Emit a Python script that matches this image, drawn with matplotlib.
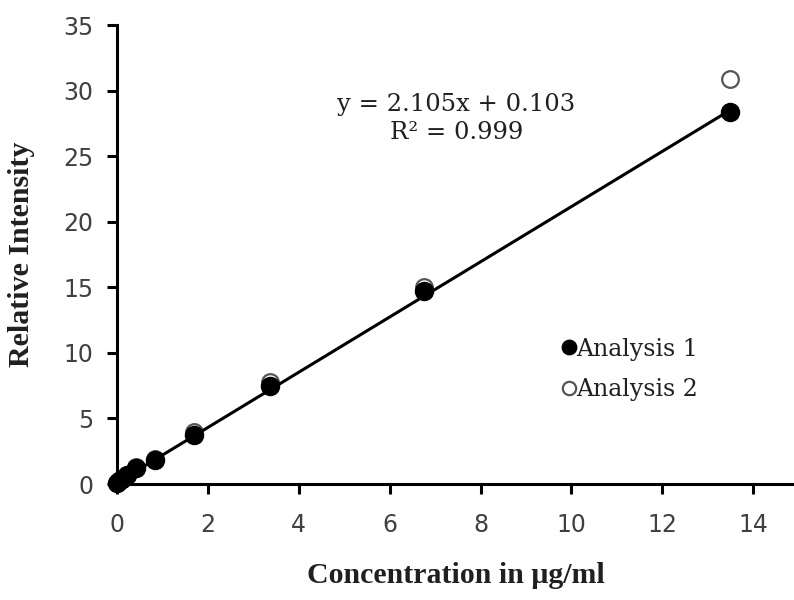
import matplotlib
matplotlib.use("Agg")
import matplotlib.pyplot as plt
import numpy as np

conc = [0.0, 0.053, 0.105, 0.21, 0.42, 0.84, 1.6875, 3.375, 6.75, 13.5]
analysis1 = [0.05, 0.2, 0.35, 0.65, 1.2, 1.85, 3.7, 7.5, 14.7, 28.4]
analysis2 = [0.05, 0.22, 0.4, 0.7, 1.3, 1.9, 3.95, 7.75, 15.05, 30.9]
slope, intercept = 2.105, 0.103
eq_text = "y = 2.105x + 0.103\nR\u00b2 = 0.999"
x_ticks = [0, 2, 4, 6, 8, 10, 12, 14]
y_ticks = [0, 5, 10, 15, 20, 25, 30, 35]

serif = ["DejaVu Serif"]
times = ["Liberation Serif", "DejaVu Serif"]
tick_col = "#404040"

fig = plt.figure(figsize=(7.94, 6.0), dpi=100)
ax = fig.add_axes([0.1474, 0.1933, 0.8526, 0.765])

ax.plot(conc, analysis2, "o", ms=12, mfc="white", mec="#555555", mew=1.6,
        label="Analysis 2", zorder=2, clip_on=False)
ax.plot(conc, analysis1, "o", ms=13, mfc="black", mec="black",
        label="Analysis 1", zorder=3, clip_on=False)
fit_x = np.array([min(conc), max(conc)])
ax.plot(fit_x, slope * fit_x + intercept, "-", color="black", lw=2.2,
        zorder=4, clip_on=False)

ax.set_xlim(0, 14.9)
ax.set_ylim(0, 35)
ax.set_xticks(x_ticks)
ax.set_yticks(y_ticks)
for s in ["top", "right"]:
    ax.spines[s].set_visible(False)
for s in ["left", "bottom"]:
    ax.spines[s].set_linewidth(2.2)
    ax.spines[s].set_zorder(1)
ax.tick_params(direction="out", length=7, width=2.2, labelsize=17,
               labelcolor=tick_col, pad=10)
ax.tick_params(axis="x", pad=14)
for lab in ax.get_xticklabels() + ax.get_yticklabels():
    lab.set_family(["Tahoma", "DejaVu Sans"])

ax.text(7.47, 27.85, eq_text, ha="center", va="center", fontsize=17.5,
        family=serif, color="#202020", linespacing=1.3)

ax.set_xlabel("Concentration in \u03bcg/ml", fontsize=21.5, family=times,
              fontweight="bold", labelpad=18, color="#202020")
ax.set_ylabel("Relative Intensity", fontsize=21.5, family=times,
              fontweight="bold", labelpad=20, color="#202020")

handles, labels = ax.get_legend_handles_labels()
leg = ax.legend(handles[::-1], labels[::-1], loc="upper left",
                bbox_to_anchor=(0.627, 0.365), frameon=False,
                prop={"family": serif, "size": 17}, handlelength=0.5,
                handletextpad=0.05, labelspacing=0.75, markerscale=0.8)
for t in leg.get_texts():
    t.set_color("#202020")

fig.savefig("out.png", dpi=100)
